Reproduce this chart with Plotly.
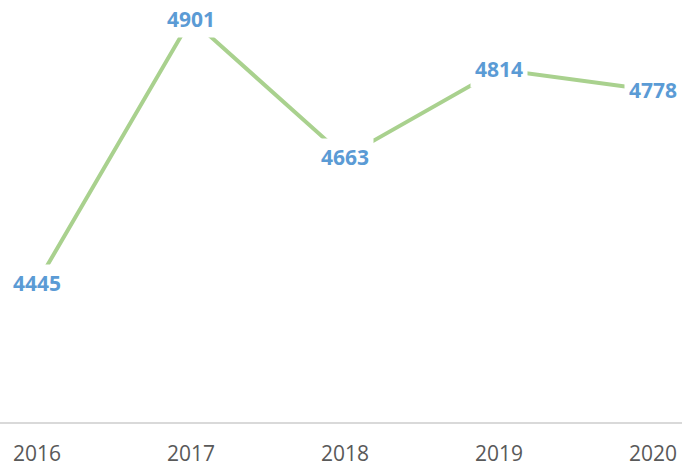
import plotly.graph_objects as go

years = ["2016", "2017", "2018", "2019", "2020"]
values = [4445, 4901, 4663, 4814, 4778]
label_texts = [str(v) for v in values]

LINE_COLOR = "#A9D18E"
LABEL_COLOR = "#5B9BD5"

fig = go.Figure()
fig.add_trace(go.Scatter(
    x=list(range(len(years))), y=values, mode="lines",
    line=dict(color=LINE_COLOR, width=4),
    hoverinfo="skip", showlegend=False,
))

for i, (v, t) in enumerate(zip(values, label_texts)):
    fig.add_annotation(
        x=i, y=v, xref="x", yref="y", text=f"<b>{t}</b>", showarrow=False,
        font=dict(family="Open Sans", size=21, color=LABEL_COLOR),
        bgcolor="white", borderpad=4,
        xanchor="center", yanchor="middle",
    )

fig.update_layout(
    width=682, height=467,
    margin=dict(l=0, r=0, t=0, b=45, pad=0),
    paper_bgcolor="white", plot_bgcolor="white",
    xaxis=dict(
        range=[-0.24, 4.188], automargin=False,
        tickmode="array", tickvals=list(range(len(years))), ticktext=years,
        showgrid=False, zeroline=False,
        showline=True, linecolor="#D9D9D9", linewidth=2,
        ticks="", ticklabelstandoff=12,
        tickfont=dict(family="Open Sans", size=21, color="#595959"),
        fixedrange=True,
    ),
    yaxis=dict(
        range=[4205, 4934], visible=False, showgrid=False, zeroline=False,
        automargin=False, fixedrange=True,
    ),
)

fig.write_html(
    "out.html",
    config={"displayModeBar": False},
    post_script="document.body.style.margin='0';document.body.style.overflow='hidden';",
)
